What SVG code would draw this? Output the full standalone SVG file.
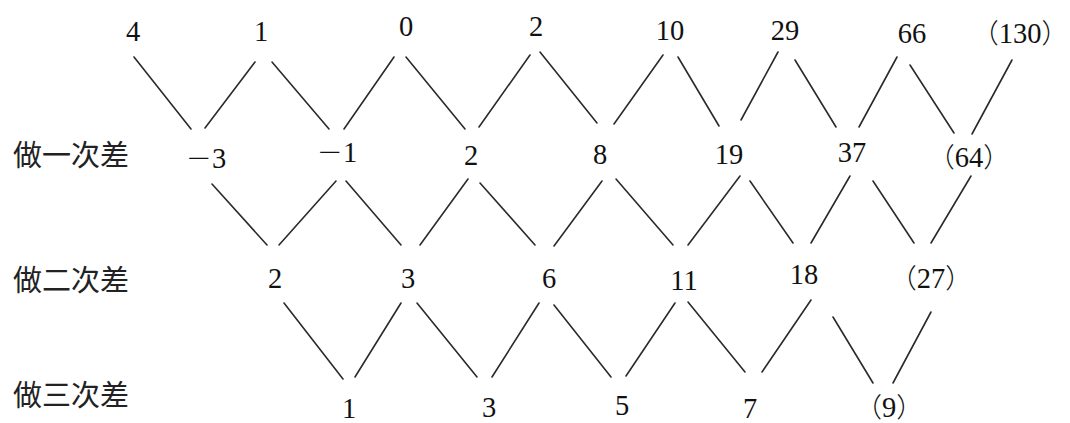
<svg xmlns="http://www.w3.org/2000/svg" width="1070" height="423" viewBox="0 0 1070 423">
<style>
.n{font-family:"Liberation Serif","Noto Sans CJK SC",serif;font-size:28.5px;fill:#111;text-anchor:middle}
.p{font-family:"Noto Sans CJK SC",serif;font-size:27px;font-weight:300}
.m{font-family:"Noto Sans CJK SC",serif;font-size:26px;font-weight:300}
.lbl{font-family:"Noto Sans CJK SC",sans-serif;font-size:29px;fill:#222}
.c line{stroke:#2a2a2a;stroke-width:1.6;stroke-linecap:round}
</style>
<rect width="1070" height="423" fill="#fff"/>
<g id="labels">
<text class="lbl" x="13" y="166">做一次差</text>
<text class="lbl" x="13" y="291">做二次差</text>
<text class="lbl" x="13" y="406">做三次差</text>
</g>
<g id="row0">
<g id="a0"><text class="n" x="133" y="41">4</text></g>
<g id="a1"><text class="n" x="261" y="41">1</text></g>
<g id="a2"><text class="n" x="406" y="36">0</text></g>
<g id="a3"><text class="n" x="536" y="36">2</text></g>
<g id="a4"><text class="n" x="670" y="40">10</text></g>
<g id="a5"><text class="n" x="785" y="40">29</text></g>
<g id="a6"><text class="n" x="912" y="43">66</text></g>
<g id="a7"><text class="n" x="1020" y="43"><tspan class="p">（</tspan>130<tspan class="p">）</tspan></text></g>
</g>
<g id="row1">
<g id="b0"><text class="n" x="206" y="168"><tspan class="m">－</tspan>3</text></g>
<g id="b1"><text class="n" x="337" y="162"><tspan class="m">－</tspan>1</text></g>
<g id="b2"><text class="n" x="471" y="165">2</text></g>
<g id="b3"><text class="n" x="600" y="164">8</text></g>
<g id="b4"><text class="n" x="729" y="164">19</text></g>
<g id="b5"><text class="n" x="852" y="162">37</text></g>
<g id="b6"><text class="n" x="969" y="167"><tspan class="p">（</tspan>64<tspan class="p">）</tspan></text></g>
</g>
<g id="row2">
<g id="c0"><text class="n" x="275" y="288">2</text></g>
<g id="c1"><text class="n" x="408" y="288">3</text></g>
<g id="c2"><text class="n" x="549" y="288">6</text></g>
<g id="c3"><text class="n" x="684" y="290">11</text></g>
<g id="c4"><text class="n" x="804" y="284">18</text></g>
<g id="c5"><text class="n" x="931" y="288"><tspan class="p">（</tspan>27<tspan class="p">）</tspan></text></g>
</g>
<g id="row3">
<g id="d0"><text class="n" x="349" y="418">1</text></g>
<g id="d1"><text class="n" x="489" y="417">3</text></g>
<g id="d2"><text class="n" x="622" y="415">5</text></g>
<g id="d3"><text class="n" x="750" y="418">7</text></g>
<g id="d4"><text class="n" x="889" y="417"><tspan class="p">（</tspan>9<tspan class="p">）</tspan></text></g>
</g>
<g id="connectors" class="c">
<line x1="134" y1="57" x2="191" y2="129"/>
<line x1="255" y1="62" x2="205" y2="128"/>
<line x1="272" y1="62" x2="329" y2="129"/>
<line x1="394" y1="57" x2="344" y2="129"/>
<line x1="406" y1="57" x2="465" y2="129"/>
<line x1="530" y1="55" x2="479" y2="127"/>
<line x1="540" y1="52" x2="597" y2="123"/>
<line x1="663" y1="55" x2="614" y2="124"/>
<line x1="678" y1="57" x2="719" y2="126"/>
<line x1="778" y1="52" x2="741" y2="120"/>
<line x1="795" y1="60" x2="836" y2="127"/>
<line x1="897" y1="57" x2="859" y2="127"/>
<line x1="910" y1="65" x2="954" y2="133"/>
<line x1="1012" y1="60" x2="972" y2="134"/>
<line x1="212" y1="184" x2="267" y2="245"/>
<line x1="336" y1="181" x2="279" y2="245"/>
<line x1="346" y1="181" x2="401" y2="245"/>
<line x1="468" y1="179" x2="420" y2="245"/>
<line x1="480" y1="183" x2="535" y2="245"/>
<line x1="602" y1="181" x2="554" y2="246"/>
<line x1="616" y1="179" x2="673" y2="245"/>
<line x1="740" y1="176" x2="688" y2="245"/>
<line x1="750" y1="181" x2="793" y2="243"/>
<line x1="850" y1="176" x2="811" y2="243"/>
<line x1="873" y1="181" x2="914" y2="243"/>
<line x1="971" y1="176" x2="931" y2="243"/>
<line x1="284" y1="303" x2="343" y2="379"/>
<line x1="401" y1="303" x2="355" y2="377"/>
<line x1="417" y1="303" x2="477" y2="377"/>
<line x1="539" y1="303" x2="492" y2="377"/>
<line x1="554" y1="305" x2="611" y2="377"/>
<line x1="675" y1="303" x2="626" y2="376"/>
<line x1="688" y1="302" x2="745" y2="372"/>
<line x1="811" y1="300" x2="762" y2="372"/>
<line x1="833" y1="317" x2="873" y2="383"/>
<line x1="931" y1="312" x2="893" y2="383"/>
</g>
</svg>
